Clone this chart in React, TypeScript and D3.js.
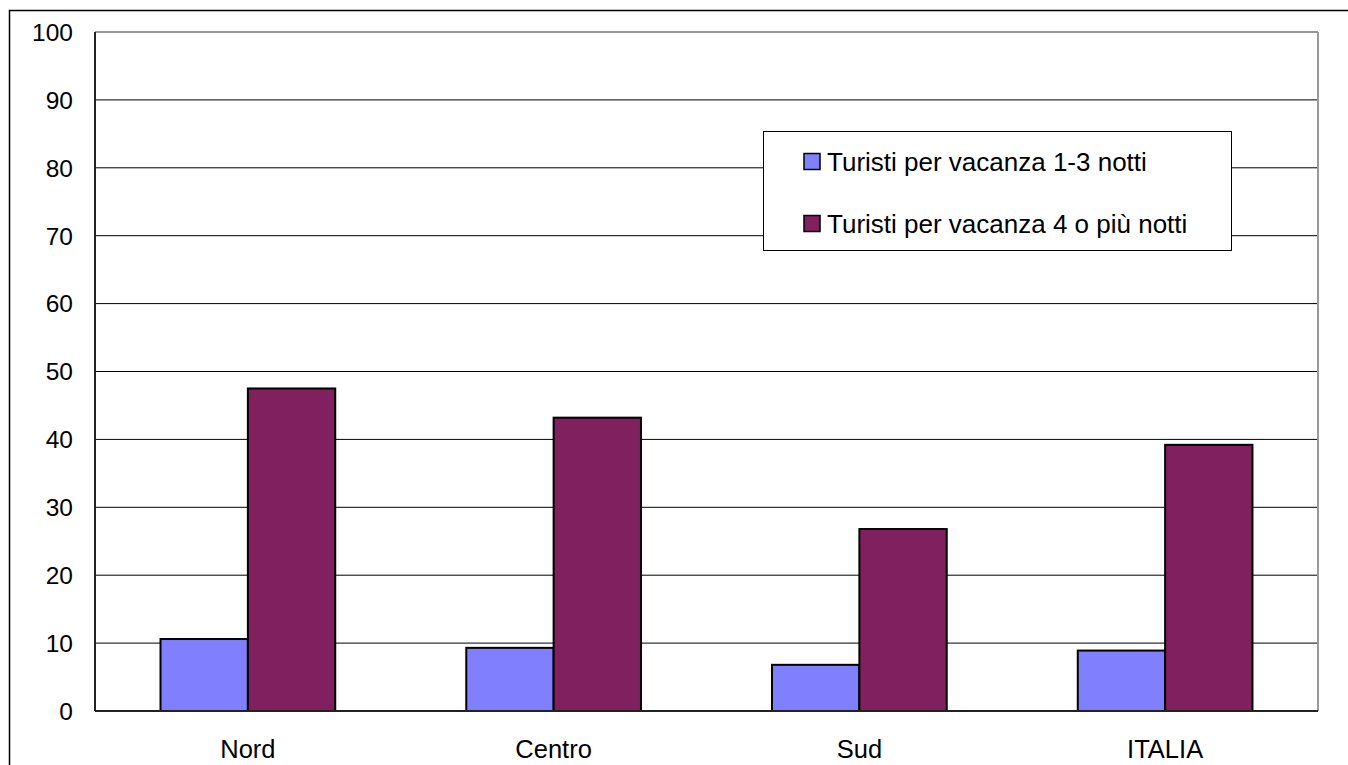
import React from "react";
import * as d3 from "d3";

const categories = ["Nord", "Centro", "Sud", "ITALIA"];
const seriesNames = ["Turisti per vacanza 1-3 notti", "Turisti per vacanza 4 o più notti"];
const short = [10.6, 9.3, 6.8, 8.9];
const long = [47.5, 43.2, 26.8, 39.2];
const yTicks = [0, 10, 20, 30, 40, 50, 60, 70, 80, 90, 100];
const colors = ["#8080FF", "#80205F"];

export default function App() {
  const W = 1348, H = 765;
  const L = 95, R = 1318, T = 32, B = 711;
  const x = d3.scaleBand<string>().domain(categories).range([L, R]).paddingInner(0).paddingOuter(0);
  const y = d3.scaleLinear().domain([0, 100]).range([B, T]);
  const bw = x.bandwidth() / 3.5;
  const series = [short, long];
  const font = "'Liberation Sans', Arial, sans-serif";
  return (
    <svg width={W} height={H} style={{ position: "absolute", left: 0, top: 0 }} fontFamily={font}>
      <rect x={0} y={0} width={W} height={H} fill="#fff" />
      <rect x={9.5} y={10.5} width={W + 20} height={H + 20} fill="none" stroke="#000" strokeWidth={1.5} />
      {yTicks.filter(t => t > 0 && t < 100).map(t => (
        <line key={t} x1={L} x2={R} y1={y(t)} y2={y(t)} stroke="#000" strokeWidth={1} />
      ))}
      <line x1={L} x2={R} y1={T} y2={T} stroke="#999" strokeWidth={2} />
      <line x1={R} x2={R} y1={T} y2={B} stroke="#999" strokeWidth={2} />
      {categories.map((c, i) => (
        <g key={c}>
          {series.map((s, k) => (
            <rect key={k} x={(x(c) as number) + 0.75 * bw + k * bw} y={y(s[i])} width={bw} height={B - y(s[i])}
              fill={colors[k]} stroke="#000" strokeWidth={2} />
          ))}
        </g>
      ))}
      <line x1={L} x2={L} y1={T} y2={B} stroke="#222" strokeWidth={2} />
      <line x1={L} x2={R} y1={B} y2={B} stroke="#222" strokeWidth={2} />
      {yTicks.map(t => (
        <text key={t} x={73} y={y(t)} dy="0.36em" textAnchor="end" fontSize={24.5}>{t}</text>
      ))}
      {categories.map(c => (
        <text key={c} x={(x(c) as number) + x.bandwidth() / 2} y={758} textAnchor="middle" fontSize={25.5}>{c}</text>
      ))}
      <rect x={763.5} y={131.5} width={468} height={119} fill="#fff" stroke="#000" strokeWidth={1} />
      {seriesNames.map((n, k) => (
        <g key={n}>
          <rect x={804} y={153.5 + k * 62} width={16} height={16} fill={colors[k]} stroke="#000" strokeWidth={1.5} />
          <text x={827} y={162 + k * 62} dy="0.36em" fontSize={26}>{n}</text>
        </g>
      ))}
    </svg>
  );
}
